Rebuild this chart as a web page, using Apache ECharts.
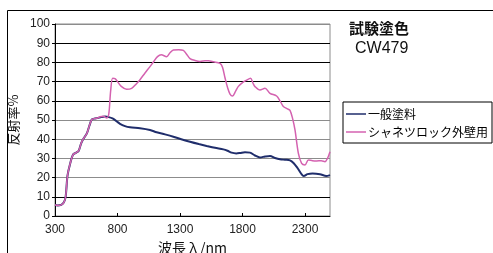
<!DOCTYPE html>
<html><head><meta charset="utf-8">
<script src="https://cdn.jsdelivr.net/npm/echarts@6/dist/echarts.min.js"></script>
<style>html,body{margin:0;padding:0;background:#fff}#c{width:493px;height:253px}</style>
</head><body><div id="c"></div>
<script>
const seriesNames = ['一般塗料', 'シャネツロック外壁用'];
const xTicks = [300, 800, 1300, 1800, 2300];
const generalNm = [300,320,350,370,385,400,420,445,470,490,510,530,555,575,595,620,640,670,700,730,760,790,820,860,900,980,1060,1113,1180,1247,1310,1380,1450,1513,1580,1647,1680,1713,1750,1780,1820,1860,1900,1940,1980,2020,2060,2100,2140,2180,2210,2240,2270,2290,2320,2360,2420,2470,2500];
const generalVal = [5.7,5.5,5.8,7,10,21,27,32,33,34,38,40.5,43,47,50.3,50.8,51,51.5,51.8,51.5,50.8,49.5,48,46.8,46.2,45.7,44.8,43.6,42.5,41.3,40,38.7,37.5,36.5,35.5,34.7,34,33,32.6,32.8,33.2,33,31.5,30.5,31,31.3,30.2,29.5,29.3,29,27.5,25,22,20.8,21.8,22.2,21.8,20.8,21.3];
const shaNm = [300,320,350,370,385,400,420,445,470,490,510,530,555,575,595,620,640,660,687,713,730,745,761,780,800,830,873,913,950,980,1020,1060,1087,1120,1150,1193,1220,1247,1290,1327,1350,1380,1420,1460,1500,1527,1570,1620,1640,1660,1680,1700,1721,1745,1767,1800,1833,1865,1885,1900,1940,1980,2020,2073,2100,2127,2160,2180,2200,2220,2247,2273,2300,2327,2360,2393,2430,2460,2480,2500];
const shaVal = [5.7,5.5,5.8,7,10,21,27,32,33,34,38,40.5,43,47,50.3,50.8,51,51.7,52,51,53,65,71.7,71.5,70,67.5,66,66.5,68.8,71,74.5,77.8,80.2,83,84,83,85,86.5,86.6,86.3,84.5,82,81,80.5,80.8,80.9,80.3,79.5,77.5,72,67,63.5,62.5,65,67.5,69.5,70.8,71.7,69,67.4,65.6,66.5,63.9,62.5,60,57,55.8,55,51,44.8,32.6,27.4,26.6,29.2,28.8,28.7,28.8,28.3,30,33.5];

const K = '#000', G = '#8c8c8c';
const splitColors = [G, K, G, G, G, G, K, K, K, K, G];
const font = '"Liberation Sans", Arial, sans-serif';
const jp = '"Noto Sans CJK JP", sans-serif';

const chart = echarts.init(document.getElementById('c'));
chart.setOption({
  animation: false,
  backgroundColor: '#fff',
  title: [
    {text: '試験塗色', left: 349, top: 21, padding: 0, textStyle: {fontFamily: jp, fontSize: 15, fontWeight: 'bold', color: '#111'}},
    {text: 'CW479', left: 355, top: 41, padding: 0, textStyle: {fontFamily: font, fontSize: 16, fontWeight: 'normal', color: '#111'}}
  ],
  graphic: [{type: 'rect', shape: {x: 7.5, y: 10.5, width: 700, height: 400}, style: {fill: 'none', stroke: '#000', lineWidth: 1}, silent: true}],
  legend: {
    orient: 'vertical', left: 343, top: 102, data: seriesNames,
    icon: 'rect',
    borderColor: '#000', borderWidth: 1, borderRadius: 0, padding: [5, 4, 4, 3],
    itemWidth: 20, itemHeight: 1.5, itemGap: 4,
    textStyle: {fontFamily: jp, fontSize: 12, color: '#000', padding: [0, 0, 0, -3], lineHeight: 14}
  },
  grid: {left: 55, top: 24, width: 275, height: 192, show: true, borderColor: G, borderWidth: 1, backgroundColor: 'transparent', outerBoundsMode: 'none', containLabel: false},
  xAxis: {
    type: 'value', min: 300, max: 2500,
    name: '波長 λ /nm', nameLocation: 'middle', nameGap: 24,
    nameTextStyle: {fontFamily: jp, fontSize: 14, color: '#111'},
    axisLine: {lineStyle: {color: '#000', width: 1}},
    axisTick: {show: true, customValues: xTicks, length: 3, inside: true, lineStyle: {color: '#000'}},
    axisLabel: {customValues: xTicks, formatter: v => String(v), fontFamily: font, fontSize: 12, color: '#222', margin: 8},
    splitLine: {show: false}
  },
  yAxis: {
    type: 'value', min: 0, max: 100, interval: 10,
    name: '反射率%', nameLocation: 'middle', nameGap: 29, nameRotate: 90,
    nameTextStyle: {fontFamily: jp, fontSize: 13, color: '#111'},
    axisLine: {show: true, lineStyle: {color: '#000', width: 1}},
    axisTick: {show: true, length: 3, lineStyle: {color: '#000'}},
    axisLabel: {fontFamily: font, fontSize: 12, color: '#222', margin: 5},
    splitLine: {show: true, lineStyle: {color: splitColors, width: 1}}
  },
  series: [
    {name: seriesNames[0], type: 'line', symbol: 'none', smooth: 0.3, data: generalNm.map((x, i) => [x, generalVal[i]]), lineStyle: {color: '#1f2d6b', width: 2}, itemStyle: {color: '#1f2d6b'}},
    {name: seriesNames[1], type: 'line', symbol: 'none', smooth: 0.3, data: shaNm.map((x, i) => [x, shaVal[i]]), lineStyle: {color: '#d462b0', width: 1.5}, itemStyle: {color: '#d462b0'}}
  ]
});
</script></body></html>
